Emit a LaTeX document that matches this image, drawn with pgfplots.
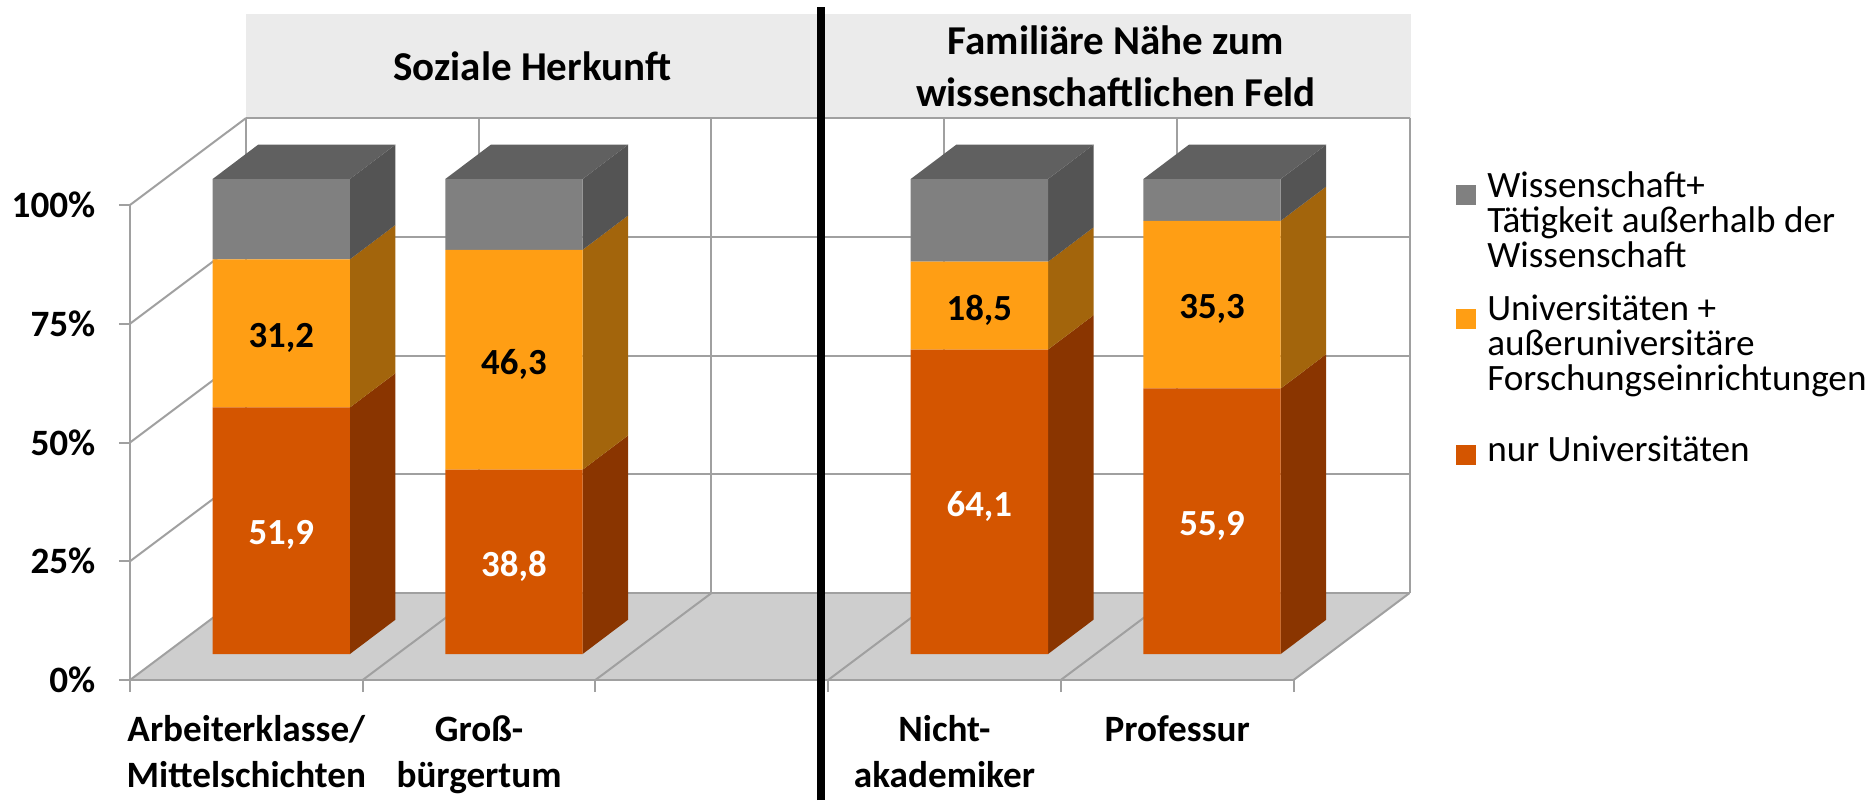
\documentclass[border=0pt]{standalone}
\usepackage{pgfplots}
\usepackage{pgfplotstable}
\usepackage{fontspec}
\pgfplotsset{compat=1.18}
\setmainfont{Carlito}
\definecolor{cRed}{HTML}{D45500}
\definecolor{cOr}{HTML}{FF9E14}
\definecolor{cGr}{HTML}{808080}
\definecolor{sRed}{HTML}{8A3500}
\definecolor{sOr}{HTML}{A3650C}
\definecolor{sGr}{HTML}{545454}
\definecolor{tGr}{HTML}{606060}
\definecolor{gridc}{HTML}{A0A0A0}
\definecolor{floorc}{HTML}{CECECE}
\definecolor{headc}{HTML}{EBEBEB}
\pgfplotstableread{
x    nur   plus  wiss
0.65 51.9  31.2  16.9
1.65 38.8  46.3  14.9
3.65 64.1  18.5  17.4
4.65 55.9  35.3  8.8
}\shares
\pgfplotsset{
  canvas/.style={width=937pt,height=400pt,scale only axis,at={(0,0)},anchor=south west,
    xmin=-0.55866,xmax=7.4946},
}
\begin{document}
\begin{tikzpicture}
\path (0,0) rectangle (937pt,400pt);
% frame: walls, floor, ticks
\begin{axis}[canvas,
  ymin=-25.263,ymax=143.158,
  axis lines=middle,
  axis line style={draw=none,-},
  hide obscured x ticks=false,hide obscured y ticks=false,
  tick align=outside,
  xtick={0.5,1.5,3.5,4.5},
  xticklabels={Arbeiterklasse/\\Mittelschichten,Groß-\\bürgertum,Nicht-\\akademiker,Professur},
  minor xtick={0,1,2,3,4,5},
  ytick={0,25,50,75,100},
  yticklabel={\pgfmathprintnumber{\tick}\%},
  /pgf/number format/assume math mode=true,
  major tick length=5.5pt,minor tick length=6pt,
  xtick style={draw=none},
  ytick style={draw=gridc,line width=1pt},
  minor x tick style={draw=gridc,line width=1pt},
  xticklabel style={align=center,anchor=north,yshift=-8.6pt,font=\bfseries\fontsize{18.6}{23}\selectfont},
  yticklabel style={anchor=east,xshift=-8.3pt,font=\bfseries\fontsize{18.6}{23}\selectfont},
]
% header band
\addplot[fill=headc,draw=none] coordinates {(0.4985,118.3)(5.507,118.3)(5.507,140.2)(0.4985,140.2)} -- cycle;
% floor
\addplot[fill=floorc,draw=none] coordinates {(0,0)(5,0)(5.4985,18.3)(0.4985,18.3)} -- cycle;
% back wall horizontals
\addplot[gridc,line width=1pt] coordinates {(0.4985,18.3)(5.4985,18.3)};
\addplot[gridc,line width=1pt] coordinates {(0.4985,43.3)(5.4985,43.3)};
\addplot[gridc,line width=1pt] coordinates {(0.4985,68.3)(5.4985,68.3)};
\addplot[gridc,line width=1pt] coordinates {(0.4985,93.3)(5.4985,93.3)};
\addplot[gridc,line width=1pt] coordinates {(0.4985,118.3)(5.4985,118.3)};
% back wall verticals
\addplot[gridc,line width=1pt] coordinates {(0.4985,18.3)(0.4985,118.3)};
\addplot[gridc,line width=1pt] coordinates {(1.4985,18.3)(1.4985,118.3)};
\addplot[gridc,line width=1pt] coordinates {(2.4985,18.3)(2.4985,118.3)};
\addplot[gridc,line width=1pt] coordinates {(3.4985,18.3)(3.4985,118.3)};
\addplot[gridc,line width=1pt] coordinates {(4.4985,18.3)(4.4985,118.3)};
\addplot[gridc,line width=1pt] coordinates {(5.4985,18.3)(5.4985,118.3)};
% side wall
\addplot[gridc,line width=1pt] coordinates {(0,0)(0,100)};
\addplot[gridc,line width=1pt] coordinates {(0,25)(0.4985,43.3)};
\addplot[gridc,line width=1pt] coordinates {(0,50)(0.4985,68.3)};
\addplot[gridc,line width=1pt] coordinates {(0,75)(0.4985,93.3)};
\addplot[gridc,line width=1pt] coordinates {(0,100)(0.4985,118.3)};
% floor lines
\addplot[gridc,line width=1pt] coordinates {(0,0)(0.4985,18.3)};
\addplot[gridc,line width=1pt] coordinates {(1,0)(1.4985,18.3)};
\addplot[gridc,line width=1pt] coordinates {(2,0)(2.4985,18.3)};
\addplot[gridc,line width=1pt] coordinates {(3,0)(3.4985,18.3)};
\addplot[gridc,line width=1pt] coordinates {(4,0)(4.4985,18.3)};
\addplot[gridc,line width=1pt] coordinates {(5,0)(5.4985,18.3)};
\addplot[gridc,line width=1.2pt] coordinates {(0,0)(5,0)};
% separator
\addplot[black,line width=3.75pt] coordinates {(2.9695,-25.263)(2.9695,141.7)};
% headings
\node[font=\bfseries\fontsize{20.5}{26}\selectfont,align=center] at (axis cs:1.729,129.3) {Soziale Herkunft};
\node[font=\bfseries\fontsize{20.5}{26}\selectfont,align=center] at (axis cs:4.237,129.3) {Familiäre Nähe zum\\wissenschaftlichen Feld};
\end{axis}
% side and top faces, in the bars' own y scale
\begin{axis}[canvas,hide axis,ymin=-30.733,ymax=137.688]
\addplot[fill=sRed,draw=none] coordinates {(0.945,0)(1.1405,7.22)(1.1405,59.12)(0.945,51.9)} -- cycle;
\addplot[fill=sOr,draw=none] coordinates {(0.945,51.9)(1.1405,59.12)(1.1405,90.32)(0.945,83.1)} -- cycle;
\addplot[fill=sGr,draw=none] coordinates {(0.945,83.1)(1.1405,90.32)(1.1405,107.22)(0.945,100)} -- cycle;
\addplot[fill=tGr,draw=none] coordinates {(0.355,100)(0.945,100)(1.1405,107.22)(0.5505,107.22)} -- cycle;
\addplot[fill=sRed,draw=none] coordinates {(1.945,0)(2.1405,7.22)(2.1405,46.02)(1.945,38.8)} -- cycle;
\addplot[fill=sOr,draw=none] coordinates {(1.945,38.8)(2.1405,46.02)(2.1405,92.32)(1.945,85.1)} -- cycle;
\addplot[fill=sGr,draw=none] coordinates {(1.945,85.1)(2.1405,92.32)(2.1405,107.22)(1.945,100)} -- cycle;
\addplot[fill=tGr,draw=none] coordinates {(1.355,100)(1.945,100)(2.1405,107.22)(1.5505,107.22)} -- cycle;
\addplot[fill=sRed,draw=none] coordinates {(3.945,0)(4.1405,7.22)(4.1405,71.32)(3.945,64.1)} -- cycle;
\addplot[fill=sOr,draw=none] coordinates {(3.945,64.1)(4.1405,71.32)(4.1405,89.82)(3.945,82.6)} -- cycle;
\addplot[fill=sGr,draw=none] coordinates {(3.945,82.6)(4.1405,89.82)(4.1405,107.22)(3.945,100)} -- cycle;
\addplot[fill=tGr,draw=none] coordinates {(3.355,100)(3.945,100)(4.1405,107.22)(3.5505,107.22)} -- cycle;
\addplot[fill=sRed,draw=none] coordinates {(4.945,0)(5.1405,7.22)(5.1405,63.12)(4.945,55.9)} -- cycle;
\addplot[fill=sOr,draw=none] coordinates {(4.945,55.9)(5.1405,63.12)(5.1405,98.42)(4.945,91.2)} -- cycle;
\addplot[fill=sGr,draw=none] coordinates {(4.945,91.2)(5.1405,98.42)(5.1405,107.22)(4.945,100)} -- cycle;
\addplot[fill=tGr,draw=none] coordinates {(4.355,100)(4.945,100)(5.1405,107.22)(4.5505,107.22)} -- cycle;
\end{axis}
% front faces: the stacked shares
\begin{axis}[canvas,hide axis,ymin=-30.733,ymax=137.688,
  ybar stacked,bar width=0.59,
  /pgf/number format/assume math mode=true,
  /pgf/number format/use comma,/pgf/number format/fixed,/pgf/number format/fixed zerofill,/pgf/number format/precision=1,
  reverse legend,
  legend style={at={(1456.5/1874,1-171.5/800)},anchor=north west,draw=none,fill=none,inner sep=0pt,outer sep=0pt,
    font=\fontsize{18.6}{17.5}\selectfont,
    nodes={inner sep=0pt,text depth=},
    cells={anchor=base west},
    row sep=0pt,
    /tikz/every odd column/.append style={column sep=5.4pt}},
]
\addplot[fill=cRed,draw=none,
  nodes near coords,point meta=rawy,
  every node near coord/.append style={anchor=center,yshift=-2.3pt,text=white,font=\bfseries\fontsize{18.4}{23}\selectfont},
  legend image code/.code={\fill[cRed] (0pt,-1.5pt) rectangle (10pt,8.5pt);}
  ] table[x=x,y=nur] {\shares};
\addplot[fill=cOr,draw=none,
  nodes near coords,point meta=rawy,
  every node near coord/.append style={anchor=center,yshift=-2.3pt,text=black,font=\bfseries\fontsize{18.4}{23}\selectfont},
  legend image code/.code={\fill[cOr] (0pt,-4pt) rectangle (10pt,6pt);}
  ] table[x=x,y=plus] {\shares};
\addplot[fill=cGr,draw=none,
  legend image code/.code={\fill[cGr] (0pt,-4pt) rectangle (10pt,6pt);}
  ] table[x=x,y=wiss] {\shares};
\addlegendentry{nur Universitäten}
\addlegendentry{\vtop{\hbox{Universitäten +}\hbox{außeruniversitäre}\hbox{Forschungseinrichtungen\rule[-22.5pt]{0pt}{0pt}}}}
\addlegendentry{\vtop{\hbox{Wissenschaft+}\hbox{Tätigkeit außerhalb der}\hbox{Wissenschaft\rule[-14pt]{0pt}{0pt}}}}
\end{axis}
\end{tikzpicture}
\end{document}
